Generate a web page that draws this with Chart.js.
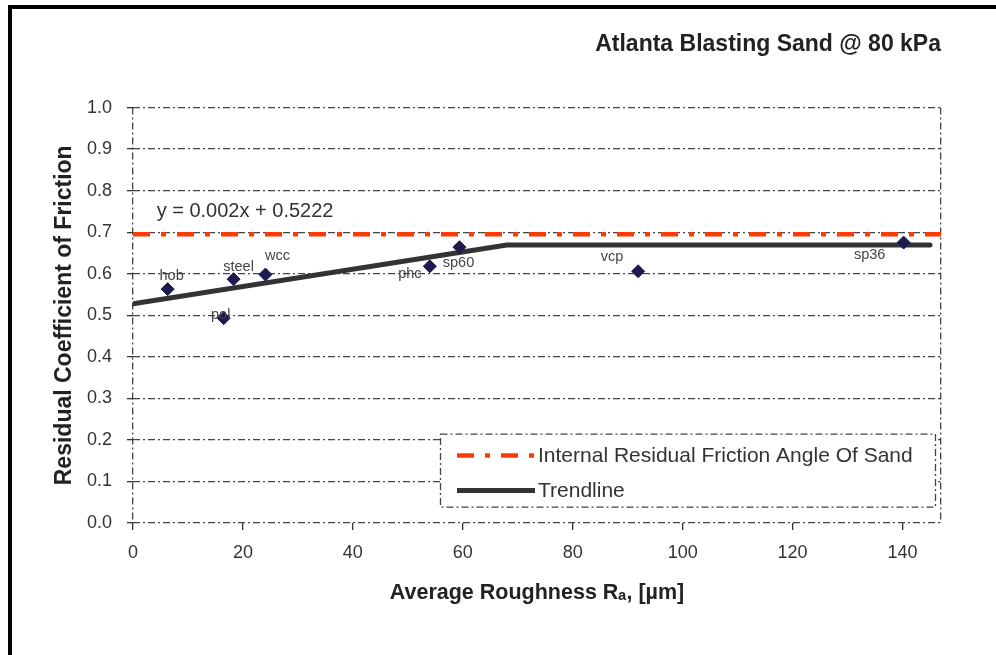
<!DOCTYPE html>
<html><head><meta charset="utf-8">
<script src="https://cdn.jsdelivr.net/npm/chart.js@4.4.0/dist/chart.umd.min.js"></script>
<style>
html,body{margin:0;padding:0;background:#fff;overflow:hidden;}
#wrap{position:relative;width:996px;height:655px;overflow:hidden;}
#frame{position:absolute;left:8px;top:5px;width:1100px;height:800px;border:4px solid #000;box-sizing:border-box;}
canvas{position:absolute;left:0;top:0;}
</style></head><body>
<div id="wrap"><div id="frame"></div><canvas id="c" width="996" height="655"></canvas></div>
<script>
// ---- data ----
const surfaces  = ['hob', 'pol', 'steel', 'wcc', 'phc', 'sp60', 'vcp', 'sp36'];
const roughness = [6.3, 16.5, 18.3, 24.1, 54.0, 59.4, 91.9, 140.2];
const friction  = [0.563, 0.493, 0.587, 0.598, 0.618, 0.664, 0.606, 0.675];
const sandX = [0, 147];
const sandY = [0.695, 0.695];
const trendX = [0, 68, 145];
const trendY = [0.528, 0.669, 0.669];
const xTicks = [0, 20, 40, 60, 80, 100, 120, 140];
const yTicks = [0, 0.1, 0.2, 0.3, 0.4, 0.5, 0.6, 0.7, 0.8, 0.9, 1.0];
const X_MIN = 0, X_MAX = 147, Y_MIN = 0, Y_MAX = 1;
const chartTitle = 'Atlanta Blasting Sand @ 80 kPa';
const xTitle = 'Average Roughness R\u2090, [\u00b5m]';
const yTitle = 'Residual Coefficient of Friction';
const sandLabel = 'Internal Residual Friction Angle Of Sand';
const trendLabel = 'Trendline';
const equationText = 'y = 0.002x + 0.5222';
const equationPos = {x: 4.3, y: 0.75};

// ---- styles ----
const FONT = "'Liberation Sans', Arial, Helvetica, sans-serif";
const GRID = '#444';
const labelOffsets = {hob:[4,-13], pol:[-3,-3], steel:[5,-12], wcc:[12,-19], phc:[-20,8], sp60:[-1,16], vcp:[-26,-14], sp36:[-34,12]};
const SAND_DASH = [17, 11, 5, 11];

const zip = (xs, ys) => xs.map((x, i) => ({x, y: ys[i]}));

const pointLabels = {
  id: 'pointLabels',
  afterDatasetsDraw(chart) {
    const ctx = chart.ctx;
    const meta = chart.getDatasetMeta(0);
    ctx.save();
    ctx.font = '14.5px ' + FONT;
    ctx.fillStyle = '#444';
    ctx.textAlign = 'center';
    ctx.textBaseline = 'middle';
    meta.data.forEach((el, i) => {
      const name = surfaces[i];
      const off = labelOffsets[name] || [0, -14];
      ctx.fillText(name, el.x + off[0], el.y + off[1]);
    });
    // equation
    ctx.font = '20px ' + FONT;
    ctx.fillStyle = '#333';
    ctx.textAlign = 'left';
    ctx.fillText(equationText, chart.scales.x.getPixelForValue(equationPos.x), chart.scales.y.getPixelForValue(equationPos.y));
    ctx.restore();
  }
};

const boxLegend = {
  id: 'boxLegend',
  afterDraw(chart) {
    const ctx = chart.ctx;
    const ca = chart.chartArea;
    const left = ca.left + 307, top = ca.top + 326, w = 495, h = 73;
    ctx.save();
    ctx.fillStyle = '#fff';
    ctx.fillRect(left, top, w, h);
    ctx.strokeStyle = '#444';
    ctx.lineWidth = 1.3;
    ctx.setLineDash([7, 3, 2, 3]);
    ctx.strokeRect(left + 0.5, top + 0.5, w, h);
    const items = chart.data.datasets.filter(d => d.inLegend);
    items.forEach((ds, i) => {
      const y = top + 22 + i * 35;
      ctx.beginPath();
      ctx.strokeStyle = ds.borderColor;
      ctx.lineWidth = ds.borderWidth;
      ctx.setLineDash(ds.borderDash || []);
      ctx.moveTo(left + 17, y);
      ctx.lineTo(left + 95, y);
      ctx.stroke();
      ctx.setLineDash([]);
      ctx.fillStyle = '#333';
      ctx.font = '21px ' + FONT;
      ctx.textAlign = 'left';
      ctx.textBaseline = 'middle';
      ctx.fillText(ds.label, left + 98, y + 1);
    });
    ctx.restore();
  }
};

new Chart(document.getElementById('c'), {
  type: 'scatter',
  data: {
    datasets: [
      {
        label: 'Data',
        data: zip(roughness, friction),
        pointStyle: 'rectRot',
        pointRadius: 6.5,
        pointHoverRadius: 6.5,
        backgroundColor: '#1c1a4e',
        borderColor: '#1c1a4e',
        order: 0
      },
      {
        label: sandLabel,
        inLegend: true,
        type: 'line',
        data: zip(sandX, sandY),
        borderColor: '#ff3a00',
        borderWidth: 4.5,
        borderDash: SAND_DASH,
        pointRadius: 0,
        fill: false,
        order: 2
      },
      {
        label: trendLabel,
        inLegend: true,
        type: 'line',
        data: zip(trendX, trendY),
        borderColor: '#333',
        borderWidth: 5,
        borderCapStyle: 'round',
        pointRadius: 0,
        fill: false,
        order: 1
      }
    ]
  },
  options: {
    responsive: false,
    animation: false,
    devicePixelRatio: 1,
    layout: {padding: {left: 50, right: 55, top: 0, bottom: 40}},
    plugins: {
      legend: {display: false},
      tooltip: {enabled: false},
      title: {
        display: true,
        text: chartTitle,
        align: 'end',
        color: '#222',
        font: {family: FONT, size: 23, weight: 'bold', lineHeight: 1.2},
        padding: {top: 31, bottom: 49}
      }
    },
    scales: {
      x: {
        type: 'linear',
        min: X_MIN,
        max: X_MAX,
        afterBuildTicks: s => { s.ticks = xTicks.concat([X_MAX]).map(v => ({value: v})); },
        afterFit: s => { s.height = 92; },
        border: {display: false, dash: [7, 3, 2, 3]},
        grid: {
          color: c => (c.tick && (c.tick.value === X_MIN || c.tick.value === X_MAX)) ? GRID : 'rgba(0,0,0,0)',
          tickColor: c => (c.tick && c.tick.value === X_MAX) ? 'rgba(0,0,0,0)' : '#333',
          lineWidth: 1.3,
          tickLength: 7
        },
        ticks: {
          callback: v => (v === X_MAX ? '' : String(v)),
          color: '#333',
          font: {family: FONT, size: 18},
          padding: 12,
          maxRotation: 0
        },
        title: {
          display: true,
          text: xTitle,
          color: '#222',
          font: {family: FONT, size: 21.5, weight: 'bold', lineHeight: 1.2},
          padding: {top: 4, bottom: 9}
        }
      },
      y: {
        min: Y_MIN,
        max: Y_MAX,
        afterBuildTicks: s => { s.ticks = yTicks.map(v => ({value: v})); },
        afterFit: s => { s.width = 83; },
        border: {display: false, dash: [7, 3, 2, 3]},
        grid: {
          color: GRID,
          tickColor: '#333',
          lineWidth: 1.3,
          tickLength: 6
        },
        ticks: {
          callback: v => Number(v).toFixed(1),
          color: '#333',
          font: {family: FONT, size: 18},
          padding: 15
        },
        title: {
          display: true,
          text: yTitle,
          color: '#222',
          font: {family: FONT, size: 23, weight: 'bold', lineHeight: 1.2},
          padding: {top: 1, bottom: 1}
        }
      }
    }
  },
  plugins: [pointLabels, boxLegend]
});
</script>
</body></html>
